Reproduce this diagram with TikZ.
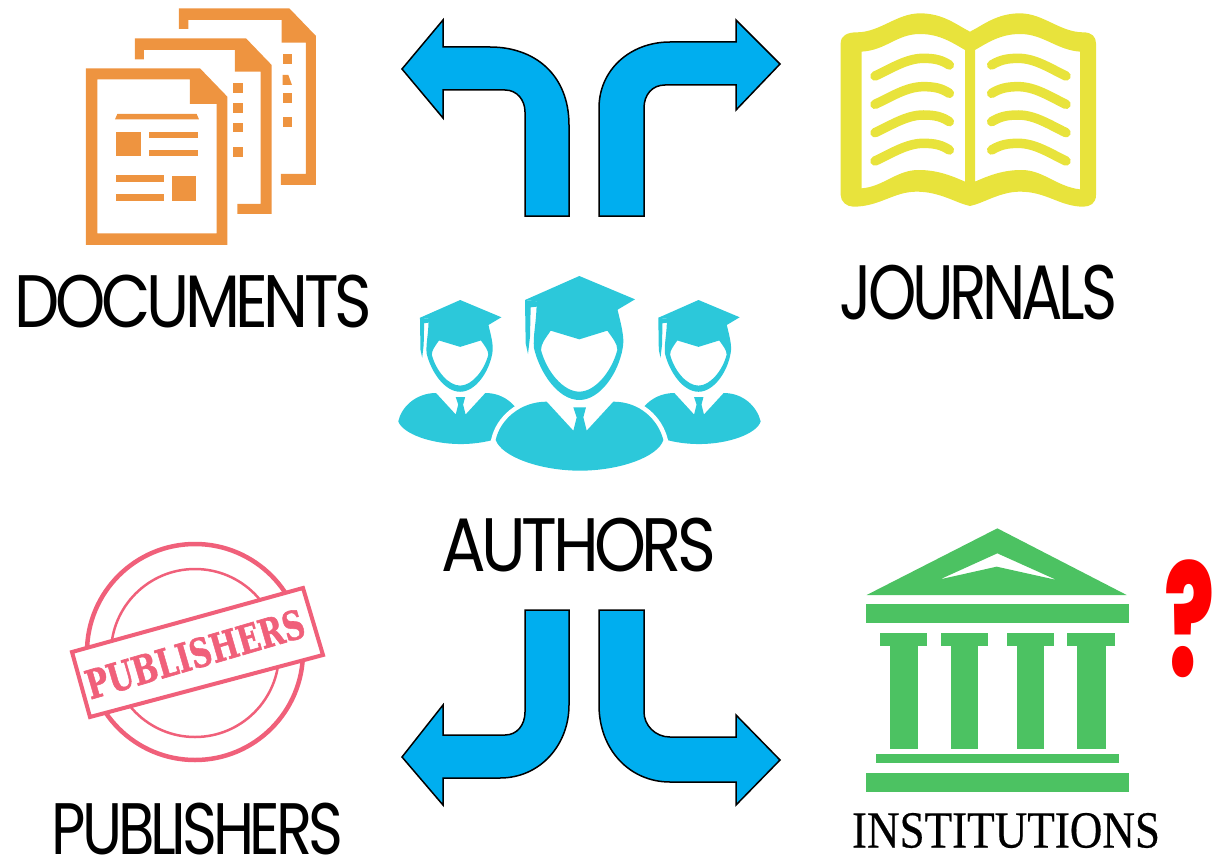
\documentclass[tikz,border=0pt]{standalone}
\usepackage{fontspec}
\usepackage{graphicx}
\newfontfamily\labfont[LetterSpace=-7]{Poppins}
\newfontfamily\serfont[FakeBold=0.4]{Liberation Serif}
\newfontfamily\stampfont[FakeBold=1.5]{DejaVu Serif}
\newfontfamily\qfont{Poppins ExtraBold}
\definecolor{docorange}{HTML}{EE9440}
\definecolor{teal}{HTML}{2CC8DA}
\definecolor{bookyellow}{HTML}{E8E33C}
\definecolor{stamp}{HTML}{F0607A}
\definecolor{instgreen}{HTML}{4CC262}
\definecolor{arrowblue}{HTML}{00AEEF}
\newcommand\bodypath{(500,425) -- (580,512) -- (590,472) -- (580,442) -- (618,442) -- (610,472) -- (620,512) -- (700,425)
      .. controls (780,425) and (835,480) .. (850,540)
      .. controls (835,590) and (720,632) .. (600,632)
      .. controls (480,632) and (365,590) .. (347,540)
      .. controls (360,480) and (420,425) .. (500,425) -- cycle}
\tikzset{
  bigarrow/.style={fill=arrowblue,draw=black,line width=1.5pt,line join=miter},
  lab/.style={inner sep=0pt,outer sep=0pt,text=black},
  docink/.style={fill=docorange},
  inst/.style={fill=instgreen},
  bookline/.style={draw=bookyellow,line width=9.5pt,line cap=round},
  person/.pic={
    % tassel
    \fill[teal] (435,120) -- (478,125) -- (470,140) -- (452,142) -- (450,230) -- (444,282) -- (437,250) -- cycle;
    % cap
    \fill[teal] (435,120) -- (598,48) -- (765,118) -- (708,152) -- cycle;
    % hair and head outline with face cut out
    \fill[teal,even odd rule]
      (470,120) -- (708,130) .. controls (722,190) and (735,230) .. (728,265)
      .. controls (715,340) and (660,420) .. (598,420)
      .. controls (535,420) and (480,340) .. (462,265)
      .. controls (458,225) and (470,190) .. (470,120) -- cycle
      (512,212) -- (598,238) -- (682,212)
      .. controls (698,235) and (712,250) .. (712,270)
      .. controls (695,335) and (645,395) .. (598,395)
      .. controls (550,395) and (500,335) .. (483,270)
      .. controls (483,250) and (497,235) .. (512,212) -- cycle;
    % body with tie
    \fill[teal] \bodypath;
  }
}
\begin{document}
\begin{tikzpicture}[x=1pt,y=-1pt]
\useasboundingbox (0,0) rectangle (1215,856);

% ---- block arrows
\draw[bigarrow] (569,216) -- (569,125) .. controls (569,75) and (535,47) .. (490,47) -- (443,47) -- (443,20) -- (402,69) -- (443,118) -- (443,90) -- (505,90) .. controls (517,90) and (525,100) .. (525,112) -- (525,216) -- cycle;
\draw[bigarrow] (599,216) -- (599,108) .. controls (599,70) and (630,42) .. (670,42) -- (736,42) -- (736,20) -- (780,64) -- (736,110) -- (736,85) -- (665,85) .. controls (652,85) and (644,95) .. (644,108) -- (644,216) -- cycle;
\draw[bigarrow] (525,610) -- (525,712) .. controls (525,725) and (517,735) .. (505,735) -- (443,735) -- (443,705) -- (402,757) -- (443,805) -- (443,778) -- (500,778) .. controls (540,778) and (569,745) .. (569,705) -- (569,610) -- cycle;
\draw[bigarrow] (599,610) -- (599,705) .. controls (599,750) and (630,782) .. (670,782) -- (736,782) -- (736,805) -- (780,760) -- (736,715) -- (736,737) -- (670,737) .. controls (655,737) and (644,725) .. (644,712) -- (644,610) -- cycle;

% ---- documents icon (zoom coordinates, 3x)
\begin{scope}[x=0.33333pt,y=-0.33333pt]
\fill[docink] (537,25) -- (868,25) -- (948,108) -- (948,555) -- (843,555) -- (843,522) -- (918,522) -- (918,128) -- (845,128) -- (845,60) -- (565,60) -- (565,87) -- (537,87) -- cycle;
\fill[docink] (848,162) rectangle (876,192);
\fill[docink] (848,225) -- (865,225) -- (876,255) -- (848,255) -- cycle;
\fill[docink] (848,280) rectangle (876,310);
\fill[docink] (848,352) rectangle (876,382);
\fill[docink] (405,115) -- (738,115) -- (815,195) -- (815,642) -- (712,642) -- (712,612) -- (782,612) -- (782,215) -- (705,215) -- (705,150) -- (432,150) -- (432,178) -- (405,178) -- cycle;
\fill[docink] (700,250) rectangle (728,278);
\fill[docink] (700,310) rectangle (728,340);
\fill[docink] (700,368) rectangle (728,397);
\fill[docink] (700,440) rectangle (728,470);
\fill[docink,even odd rule] (258,205) -- (600,205) -- (682,290) -- (682,735) -- (258,735) -- cycle
  (292,238) -- (570,238) -- (570,312) -- (650,312) -- (650,700) -- (292,700) -- cycle;
\fill[docink] (345,358) -- (352,342) -- (590,342) -- (597,358) -- cycle;
\fill[docink] (347,397) rectangle (422,468);
\fill[docink] (447,395) rectangle (595,414);
\fill[docink] (447,450) rectangle (595,469);
\fill[docink] (347,525) rectangle (492,546);
\fill[docink] (347,583) rectangle (492,604);
\fill[docink] (515,527) rectangle (588,602);
\end{scope}

% ---- book icon
\begin{scope}[shift={(820,0)},x=0.33333pt,y=-0.33333pt]
\fill[bookyellow,even odd rule]
  (62,130) .. controls (62,105) and (85,97) .. (110,97)
  .. controls (180,97) and (230,40) .. (300,40)
  .. controls (370,40) and (410,75) .. (450,95)
  .. controls (490,75) and (530,40) .. (600,40)
  .. controls (670,40) and (720,97) .. (790,97)
  .. controls (815,97) and (828,110) .. (828,130)
  -- (828,585) .. controls (828,610) and (810,620) .. (790,620)
  .. controls (720,620) and (680,575) .. (600,575)
  .. controls (540,575) and (490,610) .. (450,618)
  .. controls (410,610) and (360,575) .. (290,575)
  .. controls (220,575) and (180,620) .. (100,620)
  .. controls (80,620) and (62,605) .. (62,585) -- cycle
  (125,155) .. controls (200,150) and (230,102) .. (300,102)
  .. controls (360,102) and (400,130) .. (435,150)
  -- (435,545) .. controls (390,525) and (350,510) .. (295,510)
  .. controls (230,510) and (190,560) .. (125,565) -- cycle
  (465,150) .. controls (500,130) and (540,102) .. (600,102)
  .. controls (670,102) and (710,150) .. (780,155)
  -- (780,568) .. controls (710,560) and (670,510) .. (605,510)
  .. controls (550,510) and (510,525) .. (465,545) -- cycle;
\foreach \dy in {0,85,170,255}{
  \draw[bookline,yshift=-\dy*0.33333pt] (165,228) .. controls (215,205) and (260,175) .. (310,175) .. controls (345,175) and (365,180) .. (388,195);
  \draw[bookline,yshift=-\dy*0.33333pt] (515,195) .. controls (540,180) and (560,175) .. (595,175) .. controls (645,175) and (690,205) .. (738,228);
}
\end{scope}

% ---- authors icon
\begin{scope}[shift={(380,260)},x=0.33333pt,y=-0.33333pt]
\pic[xshift=-202*0.33333pt,yshift=-84.5*0.33333pt,x=0.24667pt,y=-0.24667pt] {person};
\pic[xshift=513*0.33333pt,yshift=-84.5*0.33333pt,x=0.24667pt,y=-0.24667pt] {person};
\draw[white,line width=9pt] \bodypath;
\pic {person};
\end{scope}

% ---- publishers stamp
\draw[stamp,line width=4.5pt] (195,652) circle [radius=108];
\draw[stamp,line width=2.5pt] (195,653) circle [radius=84];
\fill[white,draw=stamp,line width=4pt] (72,652) -- (303,588) -- (323,655) -- (90,717) -- cycle;
\node[inner sep=0pt,rotate=16.3,text=stamp] (stamptext) at (195,654)
  {\resizebox*{226pt}{30pt}{\stampfont\bfseries PUBLISHERS}};

% ---- institutions icon
\begin{scope}[shift={(830,510)},x=0.33333pt,y=-0.33333pt]
\fill[inst,even odd rule] (110,255) -- (502,55) -- (890,255) -- cycle (330,208) -- (502,130) -- (680,210) -- (500,170) -- cycle;
\fill[inst] (108,283) rectangle (897,340);
\foreach \a/\b/\c/\d in {150/290/180/265,332/473/362/445,530/672/560/643,712/855/742/827}{
  \fill[inst] (\a,368) rectangle (\b,408);
  \fill[inst] (\c,408) rectangle (\d,718);
}
\fill[inst] (137,732) rectangle (868,760);
\fill[inst] (108,790) rectangle (897,845);
\end{scope}

% ---- labels
\node[lab] (documents) at (193.5,302) {\resizebox*{357pt}{53pt}{\labfont DOCUMENTS}};
\node[lab] (journals) at (978.5,292.5) {\resizebox*{277pt}{55pt}{\labfont JOURNALS}};
\node[lab] (authors) at (579,545) {\resizebox*{274pt}{54pt}{\labfont AUTHORS}};
\node[lab] (publishers) at (197.5,829) {\resizebox*{291pt}{52pt}{\labfont PUBLISHERS}};
\node[lab] (institutions) at (1006,830.5) {\resizebox*{308pt}{35pt}{\serfont INSTITUTIONS}};
\node[inner sep=0pt,text=red] (question) at (1189,619) {\resizebox*{50pt}{118pt}{\qfont ?}};
\end{tikzpicture}
\end{document}
